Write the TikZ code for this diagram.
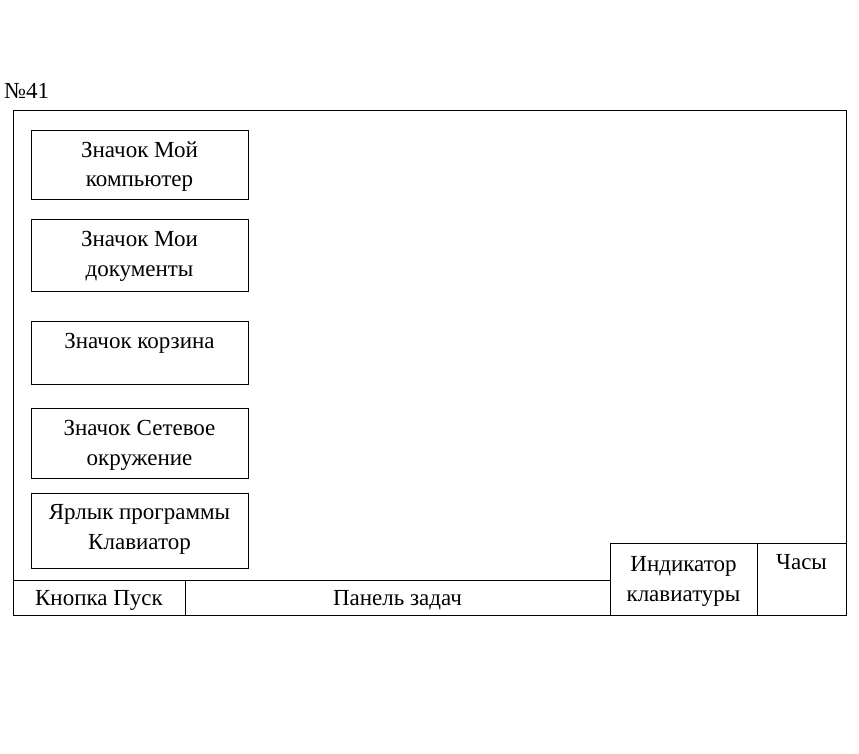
\documentclass[tikz,border=0pt]{standalone}
\usepackage{fontspec}
\setmainfont{Liberation Serif}
\usetikzlibrary{positioning}
\tikzset{
    box/.style={draw, line width=1pt, inner sep=0pt},
    lbl/.style={align=center, inner sep=0pt, font=\fontsize{23}{29.5}\selectfont}
}
\begin{document}
\begin{tikzpicture}[x=1pt, y=-1pt]
        \useasboundingbox[fill=white] (0,0) rectangle (859,753);
        % ~~~~ Rabochiy stol ~~~~ %
        \node[lbl, anchor=west] (num) at (4,91) {№41};
        \node[box, minimum width=833, minimum height=505] (desk) at (429.5,362.5) {};

        % ~~~~ Znachki ~~~~ %
        \node[box, minimum width=217, minimum height=69] (mycomp) at (139.5,164.5) {};
        \node[lbl, below=12pt of mycomp.north] (mycomptxt) {Значок Мой\\компьютер};
        \node[box, minimum width=217, minimum height=72] (mydocs) at (139.5,255) {};
        \node[lbl, below=13pt of mydocs.north] (mydocstxt) {Значок Мои\\документы};
        \node[box, minimum width=217, minimum height=63] (trash) at (139.5,352.5) {};
        \node[lbl, below=13pt of trash.north] (trashtxt) {Значок корзина};
        \node[box, minimum width=217, minimum height=70] (net) at (139.5,443) {};
        \node[lbl, below=13pt of net.north] (nettxt) {Значок Сетевое\\окружение};
        \node[box, minimum width=217, minimum height=75] (klav) at (139.5,530.5) {};
        \node[lbl, below=12pt of klav.north] (klavtxt) {Ярлык программы\\Клавиатор};

        % ~~~~ Panel zadach ~~~~ %
        \node[box, minimum width=172, minimum height=35] (start) at (99,597.5) {};
        \node[lbl, yshift=-3pt] (starttxt) at (start) {Кнопка Пуск};
        \node[box, minimum width=425, minimum height=35] (taskbar) at (397.5,597.5) {};
        \node[lbl, yshift=-3pt] (taskbartxt) at (taskbar) {Панель задач};
        \node[box, fill=white, minimum width=147, minimum height=72] (indic) at (683.5,579) {};
        \node[lbl, below=14pt of indic.north] (indictxt) {Индикатор\\клавиатуры};
        \node[box, minimum width=89, minimum height=72] (clock) at (801.5,579) {};
        \node[lbl, below=12pt of clock.north] (clocktxt) {Часы};
    \end{tikzpicture}
\end{document}
